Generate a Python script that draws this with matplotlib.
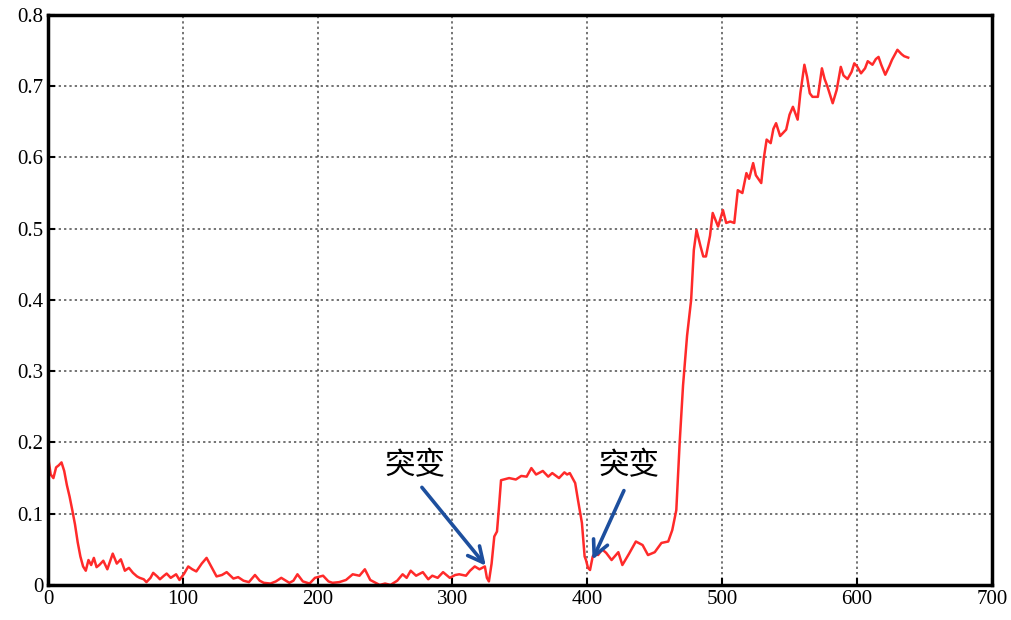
import matplotlib.pyplot as plt

# 数据
x = [0, 2, 4, 6, 8, 10, 12, 14, 16, 18, 20, 22, 24, 26, 28, 30, 32, 34, 36, 38,
     41, 44, 48, 51, 54, 57, 60, 63, 66, 68, 71, 73, 76, 78, 81, 83, 86, 88, 91, 95, 97.5,
     101, 104, 107, 110, 114, 117.6, 121, 125, 129, 132.5, 137.5, 141, 145, 149, 153.5, 157, 160,
     165, 169, 173, 179, 182, 185, 189, 194, 198, 204, 208, 211, 216, 221, 226, 231, 235, 239,
     243, 246, 250, 254, 259, 263, 266, 269, 273, 278, 282, 285, 289, 293, 298, 302, 305, 310,
     313, 316.5, 320, 324, 325.5, 327, 329, 331, 333, 334.5, 336, 342, 347, 351, 355, 358.5,
     362, 367, 371, 374, 379, 383, 385, 387, 391, 393, 396, 398, 399, 400.5, 402, 404, 405.5,
     408, 411, 414, 418, 423, 426, 431, 436, 441, 445, 450, 455, 460, 463, 466, 468.5, 471,
     474, 477, 479, 481, 484, 486, 488, 491, 493, 497, 500.6, 503, 506, 509, 511.6, 515, 518,
     520, 523, 525, 529, 531, 533, 536, 538, 540, 543, 547.5, 550, 552.5, 556, 558, 561, 563,
     565, 567, 571, 574, 576, 578, 582, 585, 588, 590, 593, 596, 598, 600, 603, 606, 608, 611.5,
     614, 616, 618, 621, 624, 626, 630, 633, 635, 638]
y = [0.18, 0.155, 0.15, 0.165, 0.168, 0.172, 0.16, 0.14, 0.124, 0.105, 0.085, 0.06, 0.04, 0.026, 0.02, 0.035, 0.028, 0.038, 0.025, 0.028,
     0.034, 0.022, 0.044, 0.03, 0.036, 0.02, 0.024, 0.017, 0.012, 0.01, 0.008, 0.004, 0.01, 0.017, 0.012, 0.008, 0.013, 0.016, 0.01, 0.015, 0.007,
     0.016, 0.026, 0.022, 0.019, 0.03, 0.038, 0.026, 0.012, 0.014, 0.018, 0.009, 0.011, 0.006, 0.004, 0.014, 0.006, 0.003,
     0.002, 0.005, 0.01, 0.003, 0.006, 0.015, 0.005, 0.002, 0.01, 0.013, 0.005, 0.003, 0.004, 0.007, 0.015, 0.013, 0.022, 0.007,
     0.003, 0.0, 0.002, 0.0, 0.006, 0.015, 0.01, 0.02, 0.013, 0.018, 0.008, 0.013, 0.01, 0.018, 0.01, 0.014, 0.015, 0.013,
     0.02, 0.026, 0.022, 0.026, 0.01, 0.005, 0.03, 0.068, 0.075, 0.11, 0.147, 0.15, 0.148, 0.153, 0.152, 0.164,
     0.155, 0.16, 0.152, 0.157, 0.15, 0.158, 0.155, 0.157, 0.143, 0.12, 0.087, 0.04, 0.035, 0.024, 0.021, 0.04, 0.044,
     0.042, 0.05, 0.045, 0.035, 0.046, 0.028, 0.044, 0.061, 0.056, 0.042, 0.046, 0.059, 0.061, 0.077, 0.105, 0.2, 0.28,
     0.35, 0.4, 0.47, 0.498, 0.475, 0.461, 0.461, 0.49, 0.522, 0.503, 0.526, 0.508, 0.51, 0.508, 0.554, 0.55, 0.578,
     0.57, 0.592, 0.575, 0.564, 0.6, 0.625, 0.62, 0.64, 0.648, 0.63, 0.639, 0.66, 0.671, 0.653, 0.69, 0.73, 0.713,
     0.69, 0.685, 0.685, 0.725, 0.71, 0.7, 0.676, 0.695, 0.727, 0.715, 0.71, 0.72, 0.732, 0.728, 0.718, 0.725, 0.735, 0.73,
     0.738, 0.741, 0.73, 0.716, 0.728, 0.737, 0.751, 0.745, 0.742, 0.74]

# 标注：文字位置、箭头尾、箭头头
labels = ['突变', '突变']
text_pos = [(272, 0.167), (431, 0.167)]
arrow_tail = [(276, 0.14), (428, 0.136)]
arrow_head = [(326, 0.024), (403, 0.032)]

plt.rcParams['font.family'] = ['Liberation Serif', 'DejaVu Serif']

fig = plt.figure(figsize=(10.11, 6.2), dpi=100)
ax = fig.add_axes([0.0475, 0.0565, 0.9335, 0.9195])

ax.plot(x, y, color='#ff2a2a', lw=1.8)

for lab, tp, tail, head in zip(labels, text_pos, arrow_tail, arrow_head):
    ax.text(tp[0], tp[1], lab, fontsize=22, ha='center', va='center',
            family=['Noto Sans CJK SC', 'DejaVu Sans'])
    ax.annotate('', xy=head, xytext=tail,
                arrowprops=dict(arrowstyle='->,head_length=1.1,head_width=0.55',
                                color='#1d4f9e', lw=2.6))

ax.set_xlim(0, 700)
ax.set_ylim(0, 0.8)
ax.set_xticks(range(0, 701, 100))
ax.set_yticks([i / 10 for i in range(9)])
ax.set_yticklabels(['0', '0.1', '0.2', '0.3', '0.4', '0.5', '0.6', '0.7', '0.8'])
ax.tick_params(direction='in', labelsize=15, length=5, width=1.5)
ax.grid(True, color='0.3', linestyle=(0, (1.5, 2)), lw=1.1)
for s in ax.spines.values():
    s.set_linewidth(2.5)

plt.savefig('out.png')
